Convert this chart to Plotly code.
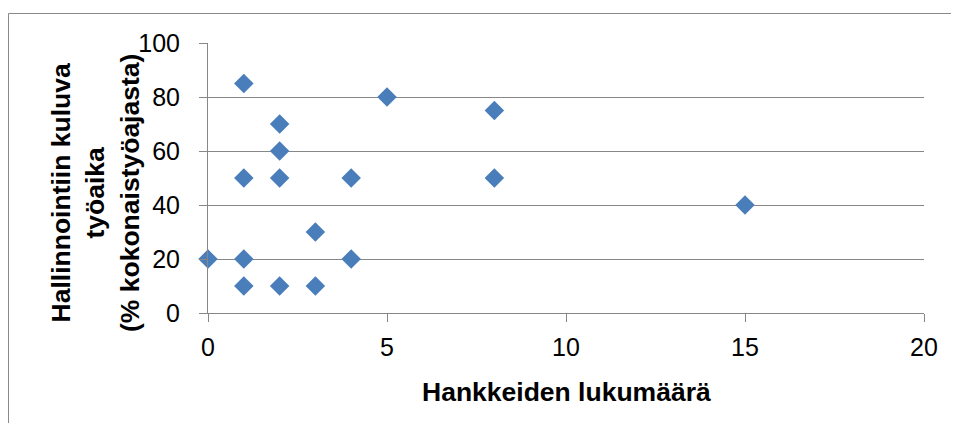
import plotly.graph_objects as go

# Data
hankkeet = [1, 5, 8, 2, 2, 1, 2, 4, 8, 15, 3, 0, 1, 4, 1, 2, 3]
hallinto = [85, 80, 75, 70, 60, 50, 50, 50, 50, 40, 30, 20, 20, 20, 10, 10, 10]

x_ticks = [0, 5, 10, 15, 20]
y_ticks = [0, 20, 40, 60, 80, 100]

x_title = "Hankkeiden lukumäärä"
y_title = "Hallinnointiin kuluva<br>työaika<br>(% kokonaistyöajasta)"

# page body adds an 8px offset; the figure is sized to fill the rest of the window
OFF = 8
W, H = 959 - OFF, 423 - OFF
ML, MR, MT, MB = 208 - OFF, 35, 43 - OFF, 110
GRID = "#878787"
FONT = "Liberation Sans, Arial, sans-serif"

fig = go.Figure()
fig.add_trace(go.Scatter(
    x=hankkeet, y=hallinto, mode="markers",
    marker=dict(symbol="diamond", size=15, color="#4A7EBB",
                line=dict(width=0)),
    cliponaxis=False, showlegend=False, hoverinfo="x+y",
))

pw = W - ML - MR
ph = H - MT - MB


def px_x(p):
    return (p - OFF - ML) / pw


def px_y(p):
    return (H - MB - (p - OFF)) / ph


fig.update_layout(
    width=W, height=H,
    margin=dict(l=ML, r=MR, t=MT, b=MB),
    paper_bgcolor="white", plot_bgcolor="white",
    font=dict(family=FONT, size=25, color="black"),
    xaxis=dict(range=[0, 20], tickvals=x_ticks, showgrid=False, zeroline=False,
               showline=True, linecolor=GRID, linewidth=1,
               ticks="outside", ticklen=8, tickcolor=GRID, tickwidth=1,
               ticklabelstandoff=4,
               tickfont=dict(size=25, family=FONT, color="black")),
    yaxis=dict(range=[0, 100], tickvals=y_ticks, showgrid=True, gridcolor=GRID,
               gridwidth=1, zeroline=False,
               showline=True, linecolor=GRID, linewidth=1,
               ticks="outside", ticklen=8, tickcolor=GRID, tickwidth=1,
               ticklabelstandoff=14,
               tickfont=dict(size=25, family=FONT, color="black")),
    annotations=[
        dict(text="<b>" + x_title + "</b>", xref="paper", yref="paper",
             x=px_x(566), y=px_y(392),
             xanchor="center", yanchor="middle", showarrow=False,
             font=dict(size=26.5, family=FONT, color="black")),
        dict(text="<b>" + y_title + "</b>", xref="paper", yref="paper",
             x=px_x(95), y=px_y(193), textangle=-90,
             xanchor="center", yanchor="middle", showarrow=False,
             font=dict(size=26.5, family=FONT, color="black")),
    ],
    shapes=[
        dict(type="rect", xref="paper", yref="paper",
             x0=px_x(8.5), x1=px_x(980),
             y0=px_y(440), y1=px_y(13.5),
             line=dict(color="#898989", width=1), layer="below"),
    ],
)

fig.write_html("out.html")
